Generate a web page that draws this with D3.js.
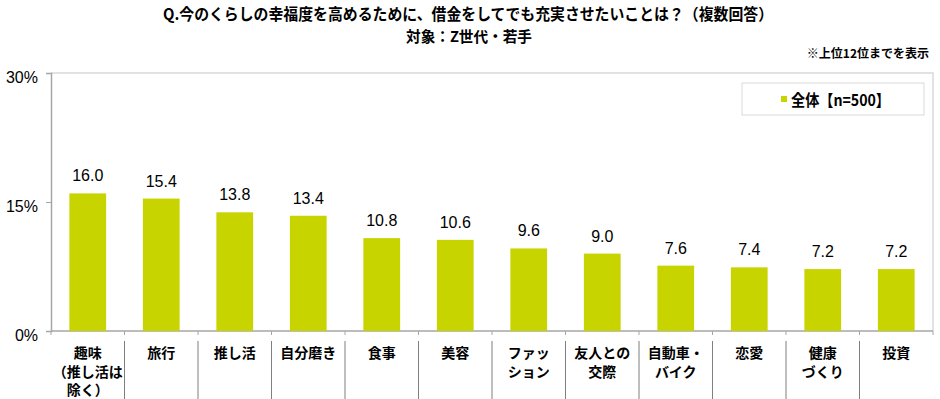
<!DOCTYPE html>
<html>
<head>
<meta charset="UTF-8">
<title>Chart</title>
<script src="https://cdn.jsdelivr.net/npm/d3@7"></script>
<style>
  body { margin: 0; background: #fff; }
  text { font-family: "Noto Sans CJK JP", sans-serif; }
  .num { font-family: "Liberation Sans", Arial, sans-serif; }
</style>
</head>
<body>
<script>
var categories = ["趣味\n（推し活は\n除く）", "旅行", "推し活", "自分磨き", "食事", "美容",
                  "ファッ\nション", "友人との\n交際", "自動車・\nバイク", "恋愛", "健康\nづくり", "投資"];
var values = [16.0, 15.4, 13.8, 13.4, 10.8, 10.6, 9.6, 9.0, 7.6, 7.4, 7.2, 7.2];
var yTicks = [0, 15, 30];
var seriesName = "全体【n=500】";

var w = 940, h = 399;
var plotL = 51, plotR = 933, plotT = 73, plotB = 331;
var barColor = "#c8d400";

var svg = d3.select("body").append("svg")
    .attr("width", w)
    .attr("height", h);

// titles
svg.append("text")
    .attr("x", 468).attr("y", 20)
    .attr("text-anchor", "middle")
    .attr("font-size", 16).attr("font-weight", "bold")
    .attr("textLength", 610).attr("lengthAdjust", "spacingAndGlyphs")
    .text("Q.今のくらしの幸福度を高めるために、借金をしてでも充実させたいことは？（複数回答）");
svg.append("text")
    .attr("x", 469).attr("y", 42)
    .attr("text-anchor", "middle")
    .attr("font-size", 15).attr("font-weight", "bold")
    .attr("textLength", 126).attr("lengthAdjust", "spacingAndGlyphs")
    .text("対象：Z世代・若手");
svg.append("text")
    .attr("x", 929).attr("y", 58)
    .attr("text-anchor", "end")
    .attr("font-size", 12).attr("font-weight", "bold")
    .text("※上位12位までを表示");

var x = d3.scaleBand().domain(categories).range([plotL, plotR]).padding(0);
var y = d3.scaleLinear().domain([0, 30]).range([plotB, plotT]);

// plot border (top + right)
svg.append("path")
    .attr("d", "M" + plotL + "," + plotT + "H" + plotR + "V" + plotB)
    .attr("fill", "none").attr("stroke", "#d9d9d9").attr("stroke-width", 1.5);

// y axis
var yAxis = d3.axisLeft(y).tickValues(yTicks).tickSize(5).tickFormat(function(d) { return d + "%"; });
var gy = svg.append("g").attr("transform", "translate(" + plotL + ",0)").call(yAxis);
gy.select(".domain").attr("stroke", "#a6a6a6").attr("stroke-width", 1.5);
gy.selectAll(".tick line").attr("stroke", "#a6a6a6");
gy.selectAll(".tick text")
    .attr("x", -13).attr("dy", "0.6em")
    .attr("font-size", 16).attr("fill", "#000")
    .style("font-family", "'Liberation Sans', Arial, sans-serif");

// x axis line + ticks at band boundaries
var bounds = categories.map(function(d) { return x(d); }).concat([plotR]);
svg.append("line")
    .attr("x1", plotL).attr("x2", plotR).attr("y1", plotB).attr("y2", plotB)
    .attr("stroke", "#a6a6a6").attr("stroke-width", 1.5);
svg.selectAll(".xtick").data(bounds).enter().append("line")
    .attr("x1", function(d) { return d; }).attr("x2", function(d) { return d; })
    .attr("y1", plotB).attr("y2", plotB + 4)
    .attr("stroke", "#a6a6a6");

// separators in label area
svg.selectAll(".sep").data(bounds.slice(1, bounds.length - 1)).enter().append("line")
    .attr("x1", function(d) { return d; }).attr("x2", function(d) { return d; })
    .attr("y1", 341).attr("y2", h)
    .attr("stroke", "#7f7f7f").attr("stroke-width", 1);

// bars
var bw = x.bandwidth() * 0.5;
svg.selectAll(".bar").data(values).enter().append("rect")
    .attr("x", function(d, i) { return x(categories[i]) + (x.bandwidth() - bw) / 2; })
    .attr("y", function(d) { return y(d); })
    .attr("width", bw)
    .attr("height", function(d) { return plotB - y(d); })
    .attr("fill", barColor);

// value labels
svg.selectAll(".val").data(values).enter().append("text")
    .attr("class", "num")
    .attr("x", function(d, i) { return x(categories[i]) + x.bandwidth() / 2; })
    .attr("y", function(d) { return y(d) - 12; })
    .attr("text-anchor", "middle")
    .attr("font-size", 16)
    .text(function(d) { return d.toFixed(1); });

// category labels
svg.selectAll(".cat").data(categories).enter().append("text")
    .attr("x", function(d) { return x(d) + x.bandwidth() / 2; })
    .attr("y", 358)
    .attr("text-anchor", "middle")
    .attr("font-size", 14).attr("font-weight", "bold")
    .each(function(d) {
        var t = d3.select(this);
        d.split("\n").forEach(function(line, i) {
            t.append("tspan")
                .attr("x", t.attr("x"))
                .attr("dy", i === 0 ? 0 : 18.5)
                .text(line);
        });
    });

// legend
var lg = svg.append("g");
lg.append("rect")
    .attr("x", 742).attr("y", 83).attr("width", 182).attr("height", 32)
    .attr("fill", "#fff").attr("stroke", "#d9d9d9");
lg.append("rect")
    .attr("x", 781).attr("y", 96).attr("width", 6).attr("height", 6)
    .attr("fill", barColor);
lg.append("text")
    .attr("x", 791).attr("y", 106)
    .attr("font-size", 16).attr("font-weight", "bold")
    .attr("textLength", 99).attr("lengthAdjust", "spacingAndGlyphs")
    .text(seriesName);
</script>
</body>
</html>
